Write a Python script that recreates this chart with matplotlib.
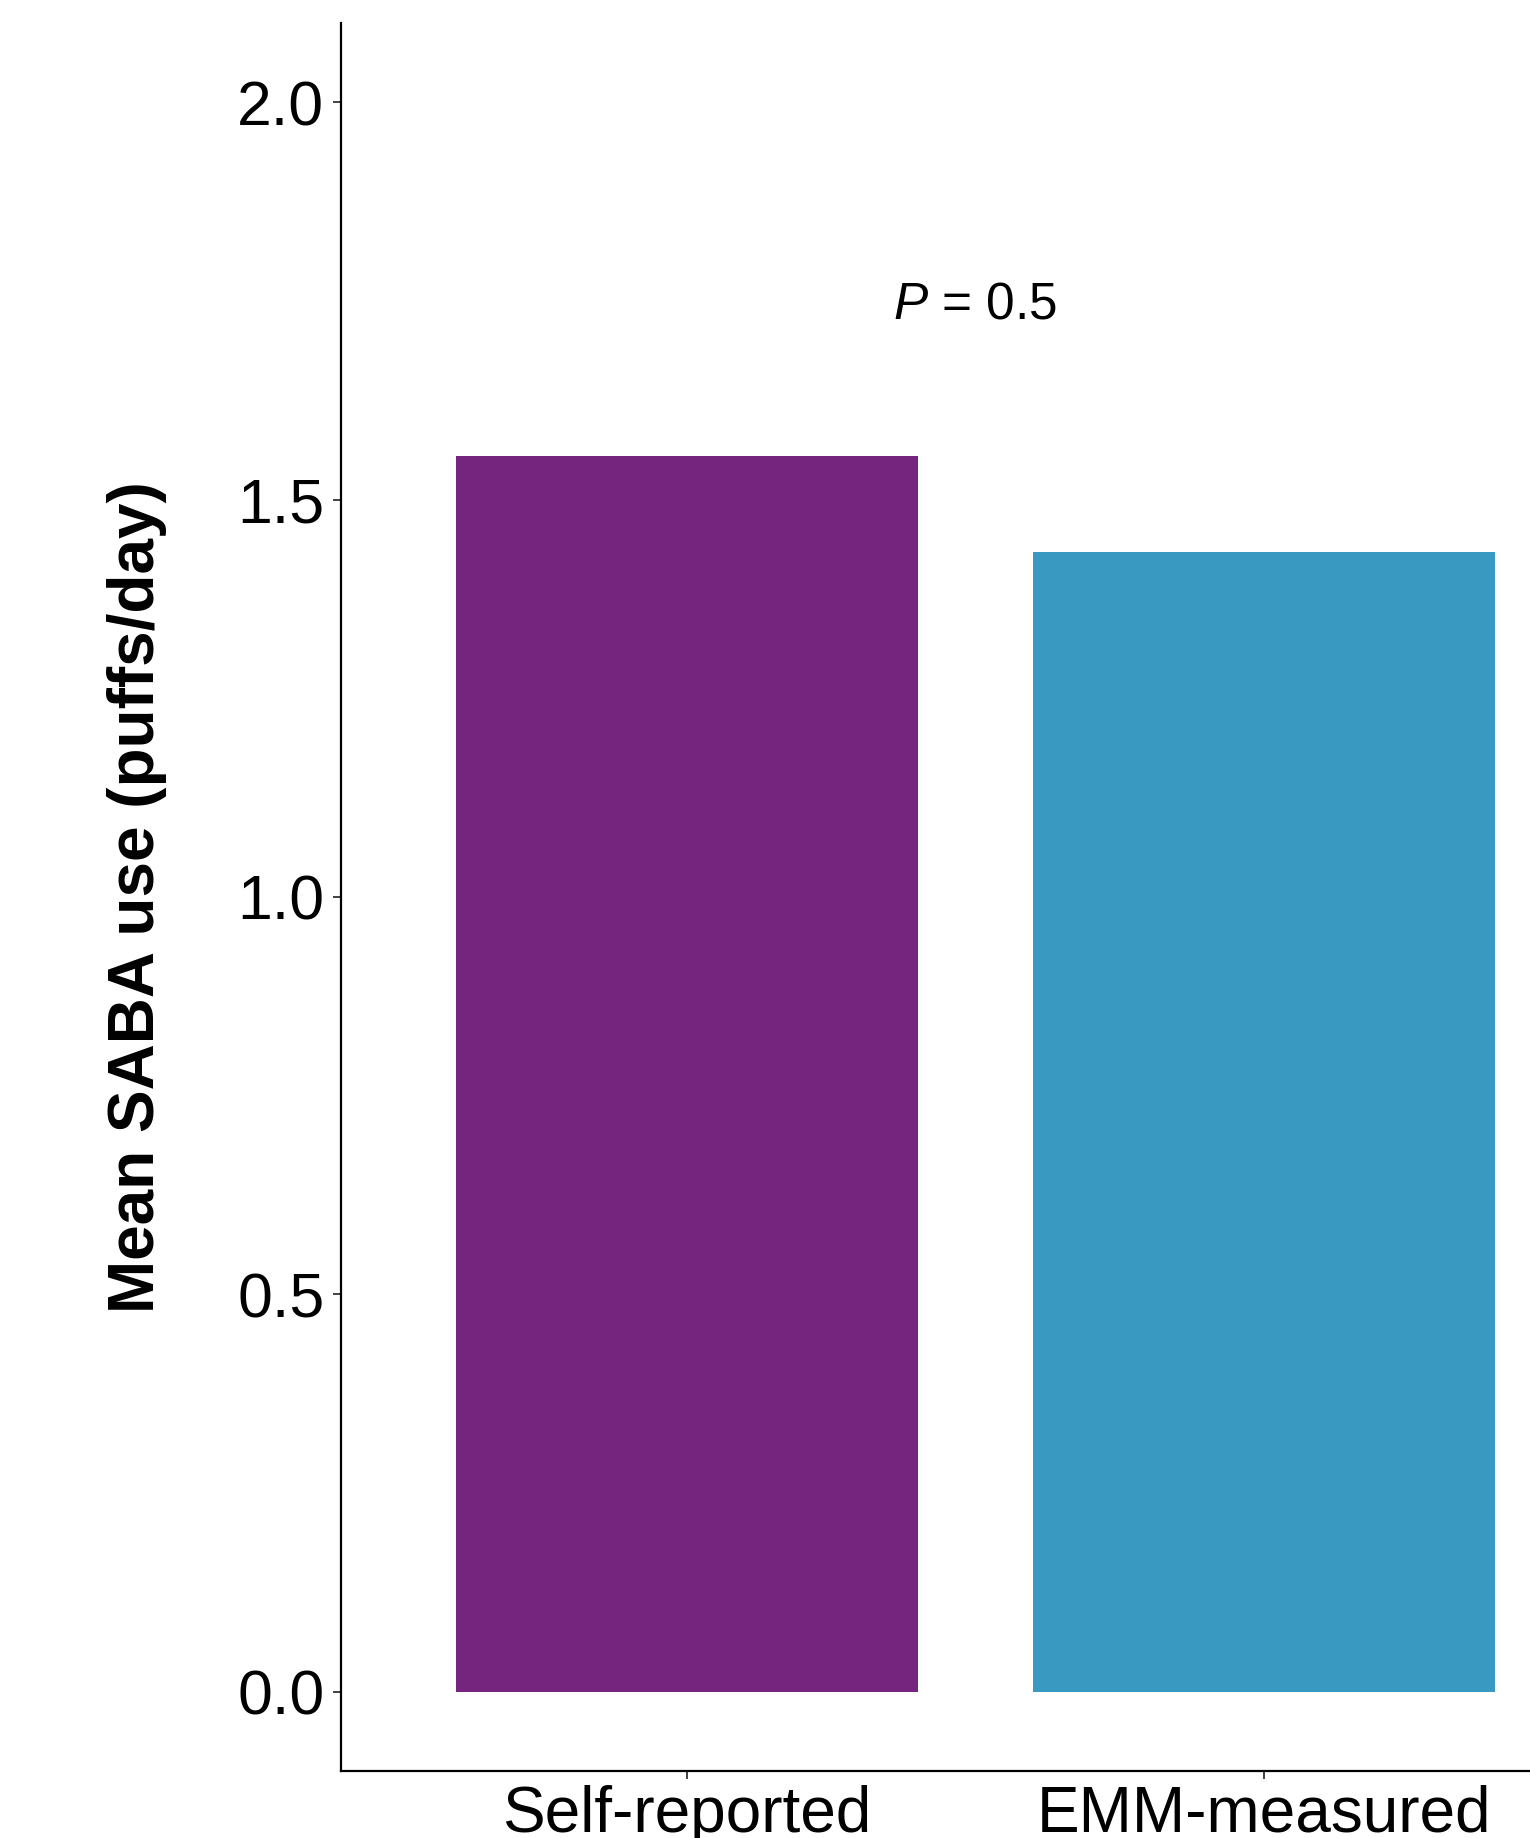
import matplotlib.pyplot as plt

# mean SABA puffs per day by source
groups = ["Self-reported", "EMM-measured"]
mean_use = [1.555, 1.434]
bar_colors = ["#76257F", "#3999C1"]
p_text = r"$\mathit{P}$ = 0.5"
p_y = 1.745
y_ticks = [0.0, 0.5, 1.0, 1.5, 2.0]

plt.rcParams["font.family"] = ["Liberation Sans", "DejaVu Sans"]
plt.rcParams["mathtext.fontset"] = "custom"
plt.rcParams["mathtext.it"] = "Liberation Sans:italic"
plt.rcParams["mathtext.rm"] = "Liberation Sans"

fig = plt.figure(figsize=(15.3, 18.38), dpi=100)
# axes run past the right edge of the figure (cropped panel)
ax = fig.add_axes([341 / 1530, 67 / 1838, 1269 / 1530, 1748 / 1838])

xpos = list(range(1, len(groups) + 1))
ax.bar(xpos, mean_use, width=0.8, color=bar_colors)

ax.set_xlim(0.4, 2.6)
ax.set_ylim(-0.1, 2.1)
ax.set_xticks(xpos)
ax.set_xticklabels(groups)
ax.set_yticks(y_ticks)
ax.set_yticklabels([f"{v:.1f}" for v in y_ticks])

ax.text(1.5, p_y, p_text, ha="center", va="center", fontsize=37)

for side in ["top", "right"]:
    ax.spines[side].set_visible(False)
for side in ["left", "bottom"]:
    ax.spines[side].set_linewidth(1.6)
    ax.spines[side].set_color("black")

ax.tick_params(axis="both", length=6, width=1.3, color="#333333",
               labelcolor="black")
ax.tick_params(axis="y", pad=6, labelsize=45)
ax.tick_params(axis="x", pad=4, labelsize=46)

fig.text(137 / 1530, 941 / 1838, "Mean SABA use (puffs/day)", rotation=90,
         ha="center", va="center", fontsize=46, fontweight="bold")

fig.savefig("out.png", dpi=100)
